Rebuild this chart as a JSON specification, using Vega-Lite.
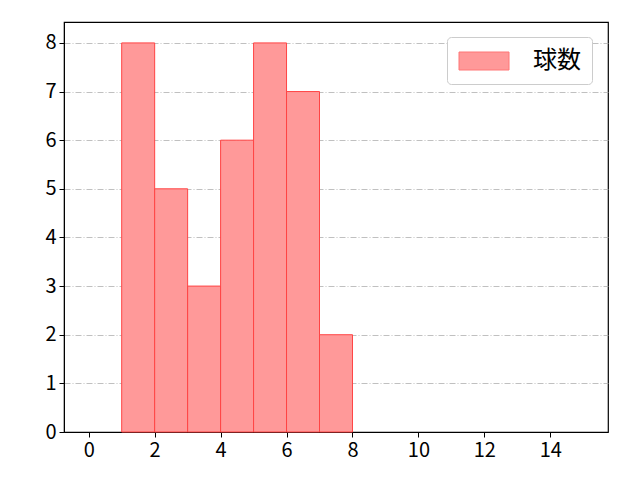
{
  "$schema": "https://vega.github.io/schema/vega-lite/v6.json",
  "width": 544,
  "height": 410,
  "autosize": {"type": "none"},
  "padding": {"left": 64, "top": 22, "right": 32, "bottom": 48},
  "background": "white",
  "config": {
    "font": "Noto Sans CJK JP",
    "view": {"stroke": "black", "strokeWidth": 1.2},
    "axis": {
      "labelFont": "Noto Sans CJK JP",
      "labelFontSize": 20,
      "labelColor": "black",
      "domainColor": "black",
      "tickColor": "black",
      "tickSize": 5,
      "labelPadding": 3,
      "title": null
    }
  },
  "data": {
    "values": [
      {"start": 1, "end": 2, "count": 8, "series": "球数"},
      {"start": 2, "end": 3, "count": 5, "series": "球数"},
      {"start": 3, "end": 4, "count": 3, "series": "球数"},
      {"start": 4, "end": 5, "count": 6, "series": "球数"},
      {"start": 5, "end": 6, "count": 8, "series": "球数"},
      {"start": 6, "end": 7, "count": 7, "series": "球数"},
      {"start": 7, "end": 8, "count": 2, "series": "球数"}
    ]
  },
  "mark": {"type": "rect", "stroke": "#ff4444", "strokeWidth": 1, "fillOpacity": 1},
  "encoding": {
    "x": {
      "field": "start",
      "type": "quantitative",
      "scale": {"domain": [-0.75, 15.75], "nice": false, "zero": false},
      "axis": {"values": [0, 2, 4, 6, 8, 10, 12, 14], "grid": false, "format": "d"}
    },
    "x2": {"field": "end"},
    "y": {
      "field": "count",
      "type": "quantitative",
      "scale": {"domain": [0, 8.43], "nice": false},
      "axis": {
        "values": [0, 1, 2, 3, 4, 5, 6, 7, 8],
        "grid": true,
        "gridColor": "#b0b0b0",
        "gridDash": [6, 2, 1, 2],
        "gridWidth": 0.8,
        "format": "d"
      }
    },
    "y2": {"datum": 0},
    "color": {
      "field": "series",
      "type": "nominal",
      "scale": {"range": ["#ff9999"]},
      "legend": {
        "title": null,
        "orient": "none",
        "legendX": 383,
        "legendY": 15,
        "symbolType": "M-2,-0.72h4v1.44h-4z",
        "symbolSize": 625,
        "symbolOffset": 13,
        "symbolStrokeColor": "#ff7777",
        "symbolStrokeWidth": 1,
        "labelFontSize": 24,
        "labelFont": "Noto Sans CJK JP",
        "labelOffset": 36,
        "padding": 11,
        "fillColor": "white",
        "strokeColor": "#cccccc",
        "cornerRadius": 4
      }
    }
  }
}
